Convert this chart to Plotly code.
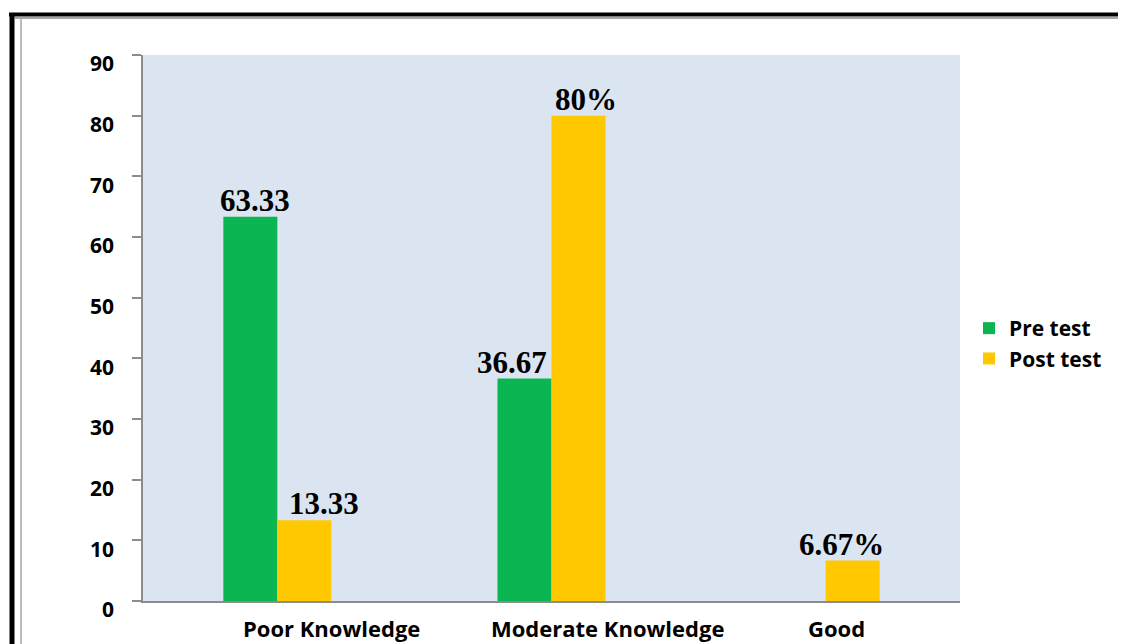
import plotly.graph_objects as go

categories = ["Poor Knowledge", "Moderate Knowledge", "Good"]
pre_test = [63.33, 36.67, 0]
post_test = [13.33, 80, 6.67]
pre_labels = ["63.33", "36.67", ""]
post_labels = ["13.33", "80%", "6.67%"]
y_ticks = [0, 10, 20, 30, 40, 50, 60, 70, 80, 90]

# page has an 8px body margin; figure sized to fill the rest of the window
OFF = 8
W, H = 1126 - OFF, 644 - OFF
L, R, T, B = 143 - OFF, 166, 55 - OFF, 43
pw, ph = W - L - R, H - T - B
BARGAP = 0.606

def px_x(px):
    return (px - OFF - L) / pw

def px_y(py):
    return (H - B - (py - OFF)) / ph

label_font = dict(family="Liberation Serif, Times New Roman, serif", size=31,
                  color="black", weight="bold")
axis_font = dict(family="Open Sans, sans-serif", size=21, color="black", weight="bold")
xlab_font = dict(family="Open Sans, sans-serif", size=22, color="black", weight="bold")

fig = go.Figure()
fig.add_trace(go.Bar(
    name="Pre test", x=list(range(len(categories))), y=pre_test,
    marker=dict(color="#0BB552", line=dict(width=0)),
))
fig.add_trace(go.Bar(
    name="Post test", x=list(range(len(categories))), y=post_test,
    marker=dict(color="#FFC800", line=dict(width=0)),
))

# data labels (Excel-style manual placement nudges, in pixels)
bar_half = (1 - BARGAP) / 4
pre_nudge = [5, -13, 0]
post_nudge = [20, 7, -11]
for i in range(len(categories)):
    for val, lab, side, nudge in ((pre_test[i], pre_labels[i], -1, pre_nudge[i]),
                                  (post_test[i], post_labels[i], 1, post_nudge[i])):
        if lab:
            fig.add_annotation(x=i + side * bar_half, y=val, xref="x", yref="y",
                               text=lab, showarrow=False, yanchor="bottom",
                               xshift=nudge, yshift=-3, font=label_font)

# category labels
xlab_nudge = [54, 56, 11]
for i, cat in enumerate(categories):
    fig.add_annotation(x=i, y=0, xref="x", yref="y", text=cat, showarrow=False,
                       yanchor="top", xshift=xlab_nudge[i], yshift=-10, font=xlab_font)

fig.update_layout(
    width=W, height=H,
    margin=dict(l=L, r=R, t=T, b=B, pad=0),
    paper_bgcolor="white",
    plot_bgcolor="#DBE5F1",
    barmode="group", bargap=BARGAP, bargroupgap=0,
    showlegend=True,
    legend=dict(
        x=px_x(969), y=px_y(308), xanchor="left", yanchor="top",
        bgcolor="rgba(0,0,0,0)", font=axis_font, itemwidth=30,
    ),
    xaxis=dict(
        range=[-0.49, 2.49], showline=True, linecolor="#8C8C8C", linewidth=1.5,
        ticks="", showgrid=False, showticklabels=False, zeroline=False,
    ),
    yaxis=dict(
        range=[0, 90], tickvals=y_ticks, showline=True, linecolor="#8C8C8C",
        linewidth=1.5, ticks="outside", ticklen=9, tickcolor="#8C8C8C",
        tickwidth=1.5, showgrid=False, zeroline=False, tickfont=axis_font,
        ticklabelshift=9, ticklabelstandoff=14,
    ),
)

# outer frame (black thick line with thin gray inner line)
fig.add_shape(type="line", xref="paper", yref="paper",
              x0=px_x(9), x1=px_x(1126), y0=px_y(14.5), y1=px_y(14.5),
              line=dict(color="black", width=4))
fig.add_shape(type="line", xref="paper", yref="paper",
              x0=px_x(12), x1=px_x(12), y0=px_y(13), y1=px_y(644),
              line=dict(color="black", width=5))
fig.add_shape(type="line", xref="paper", yref="paper",
              x0=px_x(15), x1=px_x(1126), y0=px_y(18), y1=px_y(18),
              line=dict(color="#A6A6A6", width=2))
fig.add_shape(type="line", xref="paper", yref="paper",
              x0=px_x(21), x1=px_x(21), y0=px_y(18), y1=px_y(644),
              line=dict(color="#A6A6A6", width=1.5))

fig.write_html("out.html")
